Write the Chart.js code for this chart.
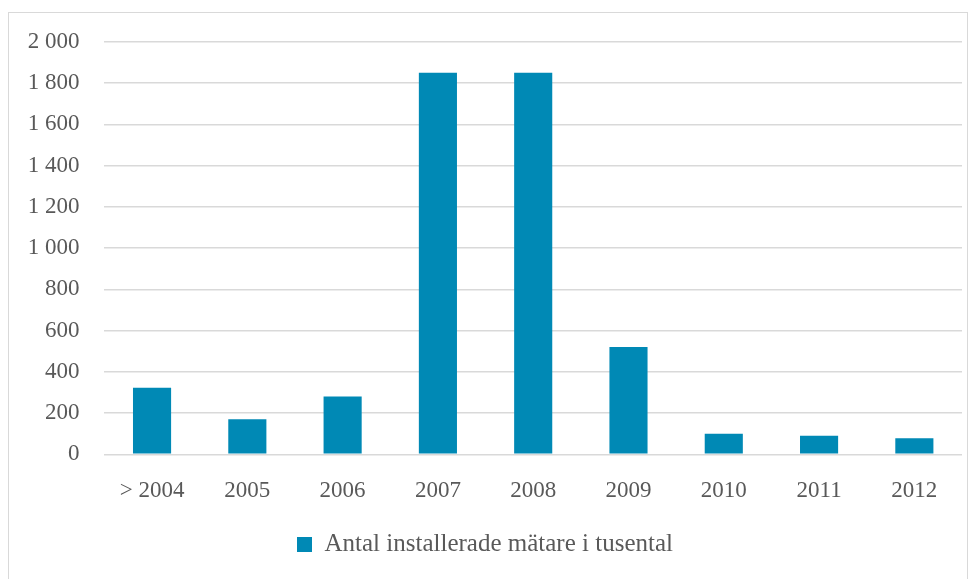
<!DOCTYPE html>
<html>
<head>
<meta charset="utf-8">
<script src="https://cdn.jsdelivr.net/npm/chart.js@4/dist/chart.umd.min.js"></script>
<style>
  html, body { margin: 0; padding: 0; background: #ffffff; }
  #wrap { position: relative; width: 978px; height: 579px; overflow: hidden; }
  #frame { position: absolute; left: 8px; top: 12px; width: 960px; height: 580px;
           border: 1px solid #d9d9d9; box-sizing: border-box; pointer-events: none; }
  canvas { position: absolute; left: 0; top: 0; }
</style>
</head>
<body>
<div id="wrap">
  <canvas id="chart" width="978" height="579"></canvas>
  <div id="frame"></div>
</div>
<script>
// Installed meters per year, in thousands
const categories = ['> 2004', '2005', '2006', '2007', '2008', '2009', '2010', '2011', '2012'];
const installedMeters = [323, 170, 280, 1850, 1850, 520, 100, 90, 78];
const seriesLabel = 'Antal installerade mätare i tusental';
const yTicks = [0, 200, 400, 600, 800, 1000, 1200, 1400, 1600, 1800, 2000];

const textColor = '#595959';
const fontFamily = "'Liberation Serif', 'Times New Roman', serif";

function formatThousands(v) {
  return String(v).replace(/\B(?=(\d{3})+(?!\d))/g, ' ');
}

new Chart(document.getElementById('chart'), {
  type: 'bar',
  data: {
    labels: categories,
    datasets: [{
      label: seriesLabel,
      data: installedMeters,
      backgroundColor: '#0089b5',
      borderWidth: 0,
      barPercentage: 0.4,
      categoryPercentage: 1.0
    }]
  },
  options: {
    responsive: false,
    animation: false,
    devicePixelRatio: 1,
    layout: { padding: { left: 8, right: 16, top: 41.7, bottom: 12 } },
    plugins: {
      tooltip: { enabled: false },
      legend: {
        position: 'bottom',
        labels: {
          color: textColor,
          font: { family: fontFamily, size: 25 },
          boxWidth: 15,
          boxHeight: 15,
          padding: 9
        }
      }
    },
    scales: {
      x: {
        grid: { display: false, drawTicks: false },
        border: { display: false },
        ticks: {
          color: textColor,
          font: { family: fontFamily, size: 23 },
          padding: 23,
          maxRotation: 0
        },
        afterFit(scale) { scale.height = 68.7; }
      },
      y: {
        min: 0,
        max: 2000,
        afterBuildTicks(scale) { scale.ticks = yTicks.map(v => ({ value: v })); },
        grid: { color: '#d9d9d9', lineWidth: 1.4, drawTicks: false },
        border: { display: false },
        ticks: {
          color: textColor,
          font: { family: fontFamily, size: 23 },
          padding: 25,
          callback: v => formatThousands(v)
        },
        afterFit(scale) { scale.width = 96.4; }
      }
    }
  }
});
</script>
</body>
</html>
